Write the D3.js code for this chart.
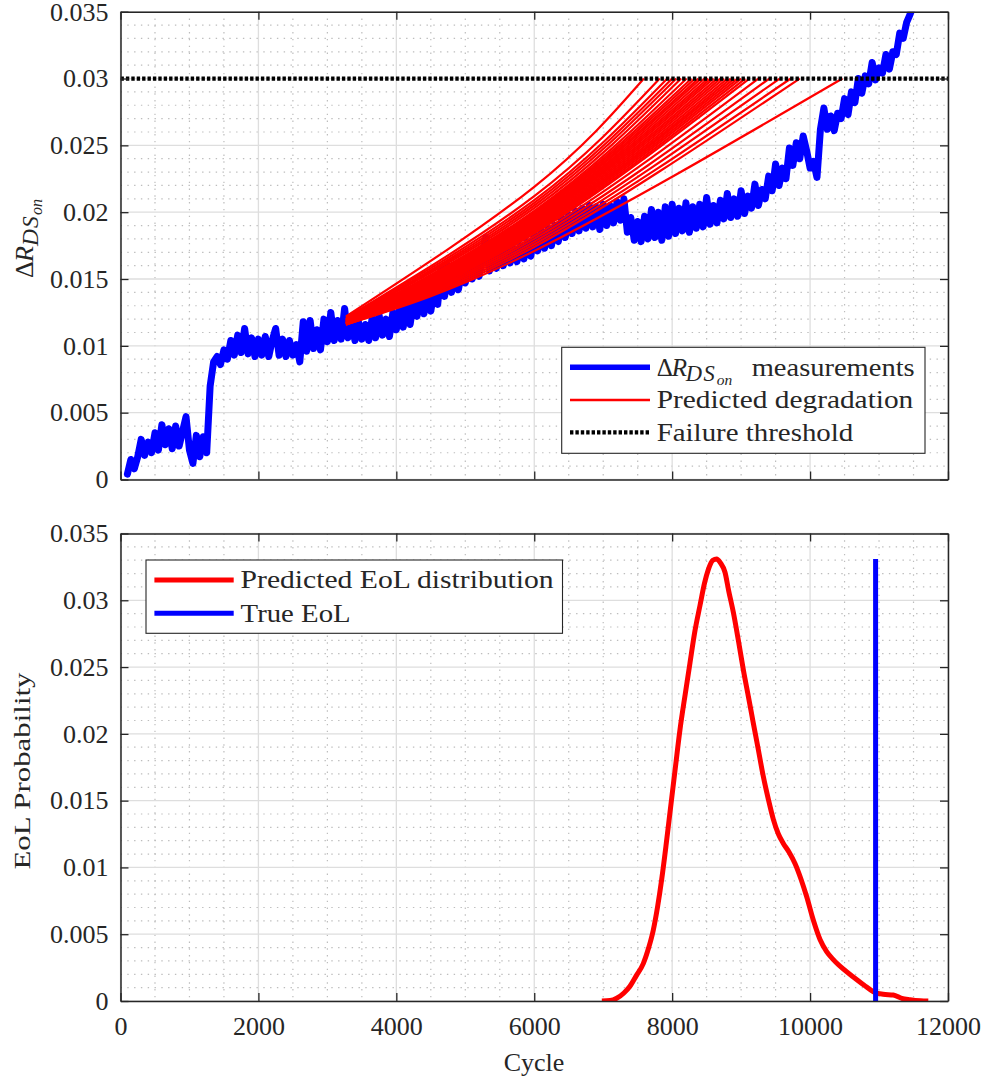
<!DOCTYPE html>
<html>
<head>
<meta charset="utf-8">
<script src="https://cdn.jsdelivr.net/npm/d3@7/dist/d3.min.js"></script>
<style>
body { margin: 0; background: #fff; }
svg text { font-family: "Liberation Serif", "Times New Roman", serif; fill: #262626; }
</style>
</head>
<body>
<div id="chart"></div>
<script>
// ---- data ----
var xTicks = [0, 2000, 4000, 6000, 8000, 10000, 12000];
var yTicks = [0, 0.005, 0.01, 0.015, 0.02, 0.025, 0.03, 0.035];
var yTickLabels = ["0", "0.005", "0.01", "0.015", "0.02", "0.025", "0.03", "0.035"];

// measured delta R_DSon, one value every 50 cycles starting at cycle 100
var measStart = 100, measStep = 50;
var measValues = [
    0.0004, 0.0015, 0.0008, 0.0017, 0.0030, 0.0018, 0.0028, 0.0020, 0.0035, 0.0022,
    0.0041, 0.0026, 0.0038, 0.0023, 0.0040, 0.0025, 0.0036, 0.0047, 0.0022, 0.0012,
    0.0033, 0.0017, 0.0032, 0.0020, 0.0070, 0.0088, 0.0092, 0.0086, 0.0097, 0.0090,
    0.0104, 0.0093, 0.0108, 0.0095, 0.0113, 0.0094, 0.0106, 0.0092, 0.0105, 0.0093,
    0.0107, 0.0092, 0.0104, 0.0113, 0.0093, 0.0105, 0.0092, 0.0104, 0.0093, 0.0101,
    0.0088, 0.0118, 0.0096, 0.0119, 0.0098, 0.0112, 0.0097, 0.0120, 0.0103, 0.0125,
    0.0104, 0.0119, 0.0105, 0.0128, 0.0106, 0.0117, 0.0104, 0.0118, 0.0105, 0.0116,
    0.0104, 0.0121, 0.0106, 0.0123, 0.0108, 0.0120, 0.0107, 0.0125, 0.0112, 0.0129,
    0.0114, 0.0131, 0.0116, 0.0133, 0.0122, 0.0136, 0.0124, 0.0137, 0.0126, 0.0142,
    0.0131, 0.0158, 0.0137, 0.0160, 0.0140, 0.0155, 0.0142, 0.0156, 0.0147, 0.0162,
    0.0150, 0.0164, 0.0152, 0.0166, 0.0181, 0.0156, 0.0168, 0.0158, 0.0171, 0.0160,
    0.0172, 0.0162, 0.0173, 0.0163, 0.0175, 0.0165, 0.0178, 0.0167, 0.0183, 0.0171,
    0.0186, 0.0173, 0.0188, 0.0175, 0.0190, 0.0178, 0.0196, 0.0181, 0.0198, 0.0184,
    0.0201, 0.0186, 0.0203, 0.0188, 0.0205, 0.0189, 0.0204, 0.0187, 0.0206, 0.0190,
    0.0205, 0.0192, 0.0208, 0.0194, 0.0210, 0.0185, 0.0196, 0.0179, 0.0193, 0.0178,
    0.0197, 0.0180, 0.0202, 0.0181, 0.0200, 0.0179, 0.0204, 0.0182, 0.0206, 0.0184,
    0.0203, 0.0186, 0.0207, 0.0185, 0.0204, 0.0188, 0.0206, 0.0189, 0.0211, 0.0191,
    0.0205, 0.0192, 0.0209, 0.0195, 0.0214, 0.0196, 0.0210, 0.0197, 0.0216, 0.0199,
    0.0212, 0.0203, 0.0221, 0.0205, 0.0217, 0.0210, 0.0227, 0.0216, 0.0236, 0.0220,
    0.0233, 0.0225, 0.0248, 0.0235, 0.0252, 0.0240, 0.0257, 0.0246, 0.0233, 0.0238,
    0.0226, 0.0262, 0.0278, 0.0262, 0.0272, 0.0261, 0.0274, 0.0270, 0.0285, 0.0273,
    0.0290, 0.0282, 0.0300, 0.0289, 0.0302, 0.0296, 0.0312, 0.0299, 0.0308, 0.0304,
    0.0318, 0.0307, 0.0320, 0.0318, 0.0334, 0.0330, 0.0342, 0.0348, 0.0355
];

var threshold = 0.03;

// predicted degradation curves: start point, value at cycle 6000, crossing of the threshold
var predStartCycle = 3270, predMidCycle = 6000;
var predEoL = [7590, 7820, 7930, 8000, 8060, 8130, 8210, 8280, 8330, 8380, 8420, 8470, 8520, 8560, 8600, 8650,
    8700, 8750, 8800, 8850, 8900, 8950, 9000, 9060, 9120, 9250, 9410, 9560, 9720, 9850, 10470];
var predStartVal = [0.0122, 0.0121, 0.0121, 0.0120, 0.0120, 0.0120, 0.0119, 0.0119, 0.0119, 0.0119, 0.0118,
    0.0118, 0.0118, 0.0118, 0.0118, 0.0118, 0.0117, 0.0117, 0.0117, 0.0117, 0.0117, 0.0117, 0.0117, 0.0117,
    0.0116, 0.0116, 0.0116, 0.0116, 0.0116, 0.0116, 0.0116];
var predMidVal = [0.0219, 0.0212, 0.0209, 0.0207, 0.0205, 0.0203, 0.0201, 0.0200, 0.0199, 0.0198, 0.0197,
    0.0196, 0.0195, 0.0194, 0.0193, 0.0192, 0.0191, 0.0190, 0.0189, 0.0188, 0.0188, 0.0187, 0.0186, 0.0185,
    0.0184, 0.0182, 0.0180, 0.0178, 0.0176, 0.0174, 0.0171];

// EoL distribution
var eolCycles = [6980, 7100, 7195, 7300, 7388, 7480, 7581, 7660, 7726, 7790, 7848, 7910, 7968, 8040, 8113,
    8190, 8258, 8330, 8403, 8470, 8524, 8590, 8645, 8700, 8766, 8820, 8887, 8960, 9032, 9105, 9177, 9250,
    9322, 9395, 9467, 9540, 9612, 9700, 9781, 9870, 9951, 10050, 10144, 10240, 10337, 10480, 10627, 10780,
    10917, 11060, 11207, 11330, 11449, 11600, 11714];
var eolProb = [0, 0.00003, 0.0002, 0.0006, 0.0011, 0.0019, 0.0028, 0.0040, 0.0053, 0.0071, 0.0091, 0.0116,
    0.0141, 0.0172, 0.0203, 0.0230, 0.0253, 0.0277, 0.0296, 0.0313, 0.0323, 0.0330, 0.0331, 0.0328, 0.0321,
    0.0307, 0.0291, 0.0270, 0.0248, 0.0228, 0.0208, 0.0188, 0.0168, 0.0151, 0.0136, 0.0125, 0.0118, 0.0111,
    0.0103, 0.0091, 0.0078, 0.0060, 0.0046, 0.0037, 0.0031, 0.0024, 0.0018, 0.0012, 0.0007, 0.0005, 0.00045,
    0.0002, 0.0001, 0.00002, 0];
var trueEoL = 10950, trueEoLTop = 0.0331;

// ---- layout ----
var W = 981, H = 1084;
var plotL = 120.5, plotR = 948;
var p1 = {top: 11.7, bottom: 479.5}, p2 = {top: 533.5, bottom: 1001};
var axisColor = "#262626";

var svg = d3.select("#chart").append("svg")
    .attr("width", W)
    .attr("height", H);

var x = d3.scaleLinear().domain([0, 12000]).range([plotL, plotR]);
var y1 = d3.scaleLinear().domain([0, 0.035]).range([p1.bottom, p1.top]);
var y2 = d3.scaleLinear().domain([0, 0.035]).range([p2.bottom, p2.top]);

function drawGrid(y, p) {
    var g = svg.append("g");
    var minorX = d3.range(0, 12001, 500).filter(function (d) { return d % 2000 !== 0; });
    var minorY = d3.range(0, 36).map(function (d) { return d / 1000; }).filter(function (d, i) { return i % 5 !== 0; });
    g.selectAll(".mx").data(minorX).enter().append("line")
        .attr("x1", x).attr("x2", x)
        .attr("y1", p.top).attr("y2", p.bottom)
        .attr("stroke", "#bdbdbd").attr("stroke-width", 1.2).attr("stroke-dasharray", "1.4,5.4");
    g.selectAll(".my").data(minorY).enter().append("line")
        .attr("x1", plotL).attr("x2", plotR)
        .attr("y1", y).attr("y2", y)
        .attr("stroke", "#bdbdbd").attr("stroke-width", 1.2).attr("stroke-dasharray", "1.4,5.4");
    g.selectAll(".gx").data(xTicks).enter().append("line")
        .attr("x1", x).attr("x2", x)
        .attr("y1", p.top).attr("y2", p.bottom)
        .attr("stroke", "#dedede").attr("stroke-width", 1.3);
    g.selectAll(".gy").data(yTicks).enter().append("line")
        .attr("x1", plotL).attr("x2", plotR)
        .attr("y1", y).attr("y2", y)
        .attr("stroke", "#dedede").attr("stroke-width", 1.3);
}

function drawAxes(y, p, showXLabels) {
    var fmt = function (d) { return yTickLabels[yTicks.indexOf(d)]; };
    var left = svg.append("g").attr("transform", "translate(" + plotL + ",0)")
        .call(d3.axisLeft(y).tickValues(yTicks).tickFormat(fmt).tickSize(-8).tickSizeOuter(0).tickPadding(12));
    var right = svg.append("g").attr("transform", "translate(" + plotR + ",0)")
        .call(d3.axisRight(y).tickValues(yTicks).tickFormat("").tickSize(-8).tickSizeOuter(0));
    var topAx = svg.append("g").attr("transform", "translate(0," + p.top + ")")
        .call(d3.axisTop(x).tickValues(xTicks).tickFormat("").tickSize(-8).tickSizeOuter(0));
    var bottom = svg.append("g").attr("transform", "translate(0," + p.bottom + ")")
        .call(d3.axisBottom(x).tickValues(xTicks).tickSize(-8).tickSizeOuter(0).tickPadding(16)
            .tickFormat(showXLabels ? d3.format("d") : ""));
    [left, right, topAx, bottom].forEach(function (a) {
        a.selectAll("path.domain").attr("stroke", axisColor).attr("stroke-width", 1.5);
        a.selectAll(".tick line").attr("stroke", axisColor).attr("stroke-width", 1.3);
        a.selectAll(".tick text")
            .attr("font-family", "Liberation Serif").attr("font-size", "26px").attr("fill", axisColor);
    });
}

function clipFor(id, p) {
    svg.append("clipPath").attr("id", id).append("rect")
        .attr("x", plotL).attr("y", p.top)
        .attr("width", plotR - plotL).attr("height", p.bottom - p.top);
    return "url(#" + id + ")";
}

// math label  Delta R_{DS_on}, each piece placed on its own
function rdsLabel(g, x0, y0, big, xs) {
    g.append("text").attr("x", x0).attr("y", y0).attr("font-size", big + "px").text("Δ");
    g.append("text").attr("x", x0 + xs[0]).attr("y", y0).attr("font-size", big + "px")
        .attr("font-style", "italic").text("R");
    g.append("text").attr("x", x0 + xs[1]).attr("y", y0 + big * 0.2).attr("font-size", (big * 0.9) + "px")
        .attr("font-style", "italic").attr("letter-spacing", xs[3]).text("DS");
    g.append("text").attr("x", x0 + xs[2]).attr("y", y0 + big * 0.36).attr("font-size", (big * 0.62) + "px")
        .attr("font-style", "italic").text("on");
}

// ---- top panel ----
drawGrid(y1, p1);
var plot1 = svg.append("g").attr("clip-path", clipFor("clip1", p1));

var measLine = d3.line()
    .x(function (d, i) { return x(measStart + i * measStep); })
    .y(function (d) { return y1(d); });
plot1.append("path")
    .datum(measValues)
    .attr("d", measLine)
    .attr("fill", "none")
    .attr("stroke", "#0000ff")
    .attr("stroke-width", 7)
    .attr("stroke-linejoin", "round")
    .attr("stroke-linecap", "round");

var predLine = d3.line()
    .x(function (d) { return x(d[0]); })
    .y(function (d) { return y1(d[1]); })
    .curve(d3.curveNatural);
plot1.selectAll(".pred").data(predEoL).enter().append("path")
    .attr("d", function (e, i) {
        return predLine([[predStartCycle, predStartVal[i]], [predMidCycle, predMidVal[i]], [e, threshold]]);
    })
    .attr("fill", "none")
    .attr("stroke", "#ff0000")
    .attr("stroke-width", 2.2);

plot1.append("line")
    .attr("x1", x(0)).attr("x2", x(12000))
    .attr("y1", y1(threshold)).attr("y2", y1(threshold))
    .attr("stroke", "#000").attr("stroke-width", 4.2).attr("stroke-dasharray", "3.4,2");

drawAxes(y1, p1, false);

// y label top (rotated)
var lab1 = svg.append("g").attr("transform", "translate(33,278) rotate(-90)");
rdsLabel(lab1, 0, 0, 26, [16, 32, 63, 1]);

// legend top
var leg1 = svg.append("g");
leg1.append("rect")
    .attr("x", 561.7).attr("y", 347.3).attr("width", 363.3).attr("height", 106)
    .attr("fill", "#fff").attr("stroke", axisColor).attr("stroke-width", 1.1);
leg1.append("line").attr("x1", 570).attr("x2", 650).attr("y1", 367.3).attr("y2", 367.3)
    .attr("stroke", "#0000ff").attr("stroke-width", 5.5);
leg1.append("line").attr("x1", 570).attr("x2", 650).attr("y1", 400).attr("y2", 400)
    .attr("stroke", "#ff0000").attr("stroke-width", 2.5);
leg1.append("line").attr("x1", 570).attr("x2", 650).attr("y1", 432.3).attr("y2", 432.3)
    .attr("stroke", "#000").attr("stroke-width", 4.2).attr("stroke-dasharray", "3.4,2");
rdsLabel(leg1, 656.7, 375.6, 25, [15, 29, 60, 1.5]);
leg1.append("text").attr("x", 751.7).attr("y", 375.6).attr("font-size", "25px")
    .attr("textLength", 163).attr("lengthAdjust", "spacingAndGlyphs").text("measurements");
leg1.append("text").attr("x", 656.7).attr("y", 408.3).attr("font-size", "25px")
    .attr("textLength", 256.6).attr("lengthAdjust", "spacingAndGlyphs").text("Predicted degradation");
leg1.append("text").attr("x", 656.7).attr("y", 440.6).attr("font-size", "25px")
    .attr("textLength", 196.6).attr("lengthAdjust", "spacingAndGlyphs").text("Failure threshold");

// ---- bottom panel ----
drawGrid(y2, p2);
var plot2 = svg.append("g").attr("clip-path", clipFor("clip2", p2));

var eolLine = d3.line()
    .x(function (d) { return x(d); })
    .y(function (d, i) { return y2(eolProb[i]); })
    .curve(d3.curveMonotoneX);
plot2.append("path")
    .datum(eolCycles)
    .attr("d", eolLine)
    .attr("fill", "none")
    .attr("stroke", "#ff0000")
    .attr("stroke-width", 5)
    .attr("stroke-linejoin", "round");

plot2.append("line")
    .attr("x1", x(trueEoL)).attr("x2", x(trueEoL))
    .attr("y1", y2(0)).attr("y2", y2(trueEoLTop))
    .attr("stroke", "#0000ff").attr("stroke-width", 5);

drawAxes(y2, p2, true);

svg.append("text")
    .attr("transform", "translate(30,771) rotate(-90)")
    .attr("text-anchor", "middle")
    .attr("font-size", "24px")
    .attr("textLength", 197).attr("lengthAdjust", "spacingAndGlyphs")
    .text("EoL Probability");

svg.append("text")
    .attr("x", 534).attr("y", 1071)
    .attr("text-anchor", "middle")
    .attr("font-size", "26px")
    .text("Cycle");

// legend bottom
var leg2 = svg.append("g");
leg2.append("rect")
    .attr("x", 146).attr("y", 560).attr("width", 416.5).attr("height", 73.3)
    .attr("fill", "#fff").attr("stroke", axisColor).attr("stroke-width", 1.1);
leg2.append("line").attr("x1", 154.4).attr("x2", 233.7).attr("y1", 580).attr("y2", 580)
    .attr("stroke", "#ff0000").attr("stroke-width", 5);
leg2.append("line").attr("x1", 154.4).attr("x2", 233.7).attr("y1", 613.3).attr("y2", 613.3)
    .attr("stroke", "#0000ff").attr("stroke-width", 5);
leg2.append("text").attr("x", 240.6).attr("y", 588.3).attr("font-size", "25px")
    .attr("textLength", 313).attr("lengthAdjust", "spacingAndGlyphs").text("Predicted EoL distribution");
leg2.append("text").attr("x", 240.6).attr("y", 621.6).attr("font-size", "25px")
    .attr("textLength", 110).attr("lengthAdjust", "spacingAndGlyphs").text("True EoL");
</script>
</body>
</html>
